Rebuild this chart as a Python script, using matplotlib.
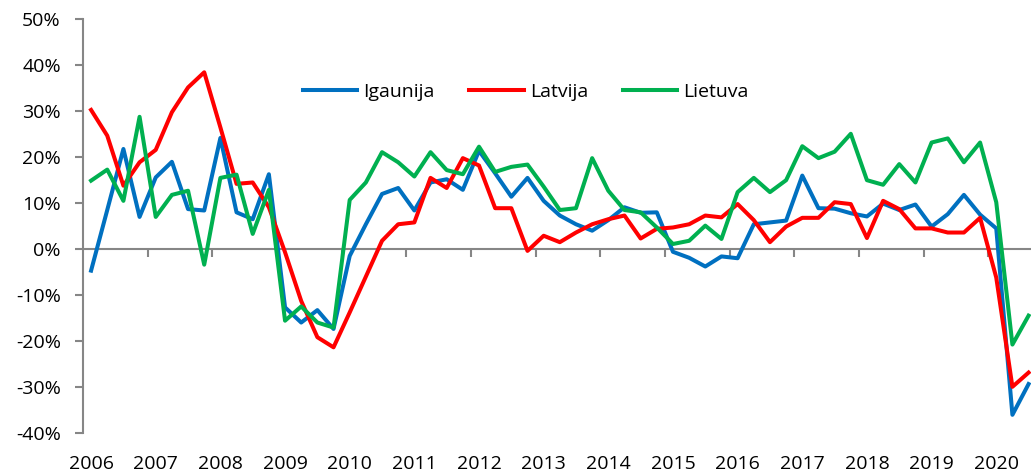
import matplotlib.pyplot as plt
import numpy as np

# Quarterly, 2006Q1 .. 2020Q3
years = [str(y) for y in range(2006, 2021)]

igaunija = [-4.7, 8.5, 21.8, 7.0, 15.6, 19.0, 8.7, 8.4, 24.2, 8.0, 6.5, 16.3,
            -12.7, -16.0, -13.3, -17.4, -1.5, 5.4, 12.0, 13.3, 8.4, 14.5, 15.2, 12.9,
            21.4, 16.5, 11.4, 15.5, 10.5, 7.3, 5.4, 4.0, 6.3, 9.1, 7.9, 8.0,
            -0.6, -1.9, -3.8, -1.6, -2.0, 5.4, 5.8, 6.2, 16.0, 8.9, 8.8, 7.8,
            7.1, 9.9, 8.5, 9.7, 4.9, 7.6, 11.8, 7.5, 4.5, -36.1, -29.4]

latvija = [30.3, 24.7, 13.8, 18.9, 21.6, 29.8, 35.2, 38.5, 26.5, 14.2, 14.5, 9.1,
           -0.7, -11.3, -19.2, -21.4, -13.8, -6.0, 1.8, 5.4, 5.8, 15.5, 13.3, 19.8,
           18.2, 8.9, 8.9, -0.4, 2.9, 1.5, 3.6, 5.4, 6.5, 7.3, 2.3, 4.4,
           4.7, 5.4, 7.3, 6.9, 9.8, 6.3, 1.5, 4.9, 6.8, 6.8, 10.2, 9.8,
           2.4, 10.5, 8.7, 4.5, 4.5, 3.6, 3.6, 6.8, -6.2, -30.0, -26.9]

lietuva = [14.9, 17.3, 10.5, 28.8, 7.0, 11.8, 12.7, -3.4, 15.5, 16.2, 3.3, 12.9,
           -15.6, -12.5, -16.0, -17.1, 10.7, 14.5, 21.1, 18.9, 15.8, 21.1, 17.2, 16.3,
           22.3, 16.8, 17.9, 18.4, 13.6, 8.5, 8.9, 19.8, 12.7, 8.5, 8.0, 4.7,
           1.1, 1.8, 5.1, 2.2, 12.4, 15.5, 12.4, 15.0, 22.4, 19.8, 21.2, 25.1,
           15.0, 14.0, 18.5, 14.5, 23.2, 24.1, 18.9, 23.2, 10.2, -20.8, -14.5]

plt.rcParams['font.family'] = ['Open Sans', 'DejaVu Sans']

fig = plt.figure(figsize=(10.31, 4.75), dpi=100)
ax = fig.add_axes([0.0805, 0.089, 0.9195, 0.870])

x = np.arange(len(igaunija))
ax.plot(x, igaunija, color='#0070C0', lw=2.9, label='Igaunija', zorder=3)
ax.plot(x, latvija, color='#FF0000', lw=2.9, label='Latvija', zorder=3)
ax.plot(x, lietuva, color='#00B050', lw=2.9, label='Lietuva', zorder=3)

ax.axhline(0, color='#868686', lw=1.5, zorder=1)

ax.set_xlim(-0.5, 58.15)
ax.set_ylim(-40, 50)
ax.set_yticks(range(-40, 51, 10))
ax.yaxis.set_major_formatter(lambda v, p: f'{v:.0f}%')
ax.tick_params(axis='y', direction='out', length=6, width=1.5, color='#868686',
               pad=10, labelsize=14)

ax.set_xticks(x[::4], years)
ax.tick_params(axis='x', length=0, pad=16, labelsize=14)

for s in ['top', 'right', 'bottom']:
    ax.spines[s].set_visible(False)
ax.spines['left'].set_color('#868686')
ax.spines['left'].set_linewidth(1.5)

# year-boundary tick marks hanging from the zero line
sec = ax.secondary_xaxis(0, transform=ax.transData)
sec.set_xticks(np.arange(3.5, 56, 4))
sec.tick_params(length=6, width=1.5, color='#868686', labelbottom=False)
for s in sec.spines.values():
    s.set_visible(False)

ax.legend(ncol=3, frameon=False, loc='center', bbox_to_anchor=(0.467, 0.825),
          fontsize=14, handlelength=2.8, handletextpad=0.3, columnspacing=1.8)

fig.savefig('out.png', dpi=100)
